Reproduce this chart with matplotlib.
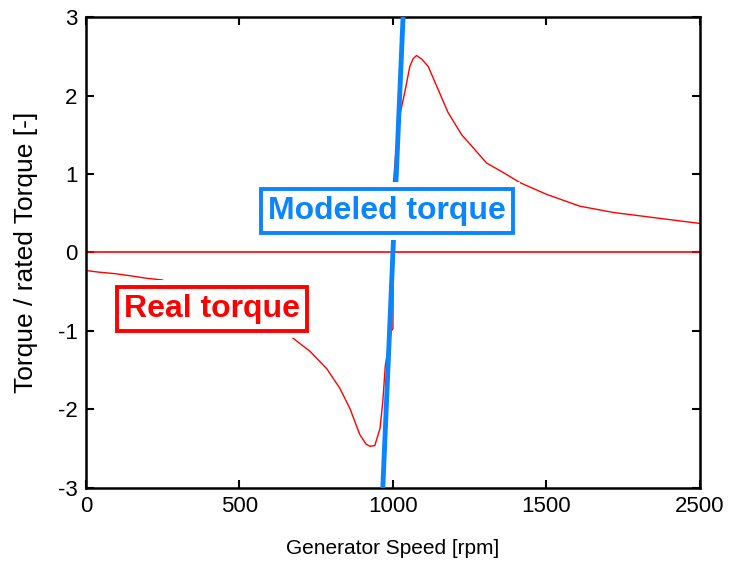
import numpy as np
import matplotlib.pyplot as plt

# measured generator torque (per unit of rated torque) vs speed
real_speed = [0, 40, 95, 150, 200, 248, 667, 730, 784, 827, 860, 892, 912, 925,
              941, 958, 967, 975, 985, 995, 1000, 1002, 1010, 1023, 1039, 1055,
              1066, 1077, 1095, 1115, 1148, 1180, 1224, 1267, 1305, 1359, 1414,
              1501, 1609, 1718, 1859, 2000]
real_torque = [-0.23, -0.25, -0.27, -0.30, -0.33, -0.35, -1.07, -1.26, -1.48,
               -1.73, -1.99, -2.32, -2.44, -2.47, -2.46, -2.24, -1.9, -1.45,
               -1.2, -1.0, -0.97, 0.9, 1.3, 1.76, 2.05, 2.37, 2.47, 2.51, 2.46,
               2.37, 2.07, 1.78, 1.50, 1.31, 1.14, 1.02, 0.89, 0.74, 0.59, 0.51,
               0.44, 0.37]

# linear model around synchronous speed
model_speed = [967, 1033]
model_torque = [-3, 3]

xticks = [0, 500, 1000, 1500, 2000]
xticklabels = ['0', '500', '1000', '1500', '2500']
yticks = [-3, -2, -1, 0, 1, 2, 3]

red = '#ff0000'
blue = '#0a84ff'
plt.rcParams['font.family'] = ['Liberation Sans', 'DejaVu Sans']
plt.rcParams['axes.unicode_minus'] = False

fig = plt.figure(figsize=(7.29, 5.68), dpi=100)
ax = fig.add_axes([0.118, 0.141, 0.842, 0.829])

ax.axhline(0, color=red, lw=1.2, zorder=2)
ax.plot(real_speed, real_torque, color=red, lw=1.0, zorder=2)
ax.plot(model_speed, model_torque, color=blue, lw=3.5, zorder=3)

ax.set_xlim(0, 2000)
ax.set_ylim(-3, 3)
ax.set_xticks(xticks)
ax.set_xticklabels(xticklabels)
ax.set_yticks(yticks)
ax.tick_params(direction='in', length=6, width=1.5, top=True, right=True,
               labelsize=16, colors='black')
ax.tick_params(axis='x', pad=6)
ax.tick_params(axis='y', pad=6)
for s in ax.spines.values():
    s.set_linewidth(1.8)

ax.set_xlabel('Generator Speed [rpm]', fontsize=15, labelpad=16)
ax.set_ylabel('Torque / rated Torque [-]', fontsize=19, labelpad=14)


def label_box(x, y, txt, col):
    # white halo hides the curves right around the box
    for c, ec, lw, z in [('white', 'white', 10, 4), (col, col, 2.8, 5)]:
        ax.text(x, y, txt, color=c, fontsize=23, fontweight='bold',
                ha='center', va='center', zorder=z,
                bbox=dict(boxstyle='square,pad=0.22', fc='white', ec=ec, lw=lw))


label_box(980, 0.53, 'Modeled torque', blue)
label_box(410, -0.72, 'Real torque', red)

fig.savefig('out.png', dpi=100)
